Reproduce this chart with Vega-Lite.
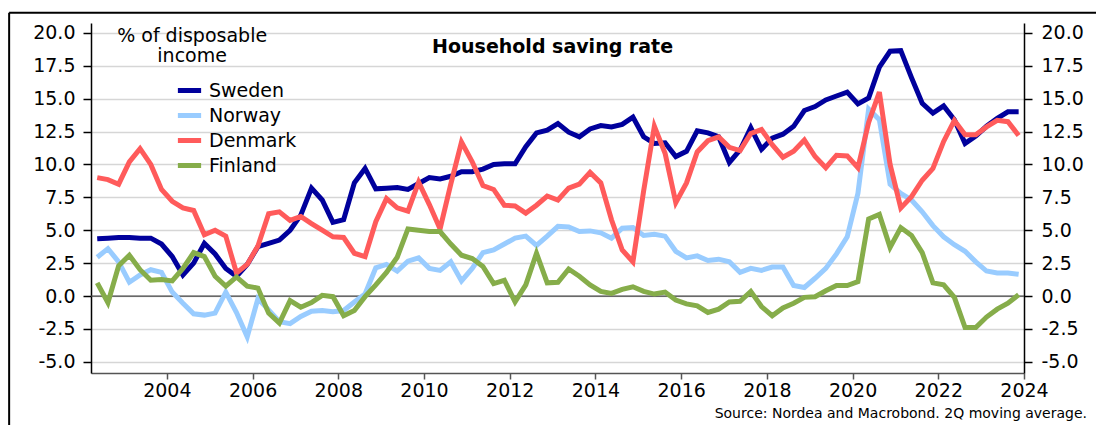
{
  "$schema": "https://vega.github.io/schema/vega-lite/v6.json",
  "width": 933,
  "height": 350,
  "autosize": {"type": "none"},
  "padding": {"left": 91, "top": 23, "right": 72, "bottom": 52},
  "background": "white",
  "config": {
    "view": {"stroke": null},
    "font": "DejaVu Sans",
    "legend": {
      "orient": "none",
      "legendX": 84,
      "legendY": 53,
      "symbolType": "stroke",
      "symbolStrokeWidth": 5,
      "symbolSize": 540,
      "labelFontSize": 19,
      "labelColor": "black",
      "labelOffset": 5,
      "rowPadding": -2,
      "title": null
    }
  },
  "datasets": {
    "series": [
{"t":2002.375,"c":"Sweden","v":4.35},{"t":2002.625,"c":"Sweden","v":4.4},{"t":2002.875,"c":"Sweden","v":4.45},{"t":2003.125,"c":"Sweden","v":4.45},{"t":2003.375,"c":"Sweden","v":4.4},{"t":2003.625,"c":"Sweden","v":4.4},{"t":2003.875,"c":"Sweden","v":3.95},{"t":2004.125,"c":"Sweden","v":3.0},{"t":2004.375,"c":"Sweden","v":1.6},{"t":2004.625,"c":"Sweden","v":2.5},
{"t":2004.875,"c":"Sweden","v":4.0},{"t":2005.125,"c":"Sweden","v":3.2},{"t":2005.375,"c":"Sweden","v":2.1},{"t":2005.625,"c":"Sweden","v":1.5},{"t":2005.875,"c":"Sweden","v":2.4},{"t":2006.125,"c":"Sweden","v":3.75},{"t":2006.375,"c":"Sweden","v":4.0},{"t":2006.625,"c":"Sweden","v":4.25},{"t":2006.875,"c":"Sweden","v":5.0},{"t":2007.125,"c":"Sweden","v":6.15},
{"t":2007.375,"c":"Sweden","v":8.2},{"t":2007.625,"c":"Sweden","v":7.3},{"t":2007.875,"c":"Sweden","v":5.6},{"t":2008.125,"c":"Sweden","v":5.8},{"t":2008.375,"c":"Sweden","v":8.6},{"t":2008.625,"c":"Sweden","v":9.7},{"t":2008.875,"c":"Sweden","v":8.15},{"t":2009.125,"c":"Sweden","v":8.2},{"t":2009.375,"c":"Sweden","v":8.25},{"t":2009.625,"c":"Sweden","v":8.1},
{"t":2009.875,"c":"Sweden","v":8.55},{"t":2010.125,"c":"Sweden","v":9.0},{"t":2010.375,"c":"Sweden","v":8.9},{"t":2010.625,"c":"Sweden","v":9.1},{"t":2010.875,"c":"Sweden","v":9.45},{"t":2011.125,"c":"Sweden","v":9.45},{"t":2011.375,"c":"Sweden","v":9.65},{"t":2011.625,"c":"Sweden","v":10.0},{"t":2011.875,"c":"Sweden","v":10.05},{"t":2012.125,"c":"Sweden","v":10.05},
{"t":2012.375,"c":"Sweden","v":11.35},{"t":2012.625,"c":"Sweden","v":12.4},{"t":2012.875,"c":"Sweden","v":12.6},{"t":2013.125,"c":"Sweden","v":13.1},{"t":2013.375,"c":"Sweden","v":12.45},{"t":2013.625,"c":"Sweden","v":12.1},{"t":2013.875,"c":"Sweden","v":12.7},{"t":2014.125,"c":"Sweden","v":12.95},{"t":2014.375,"c":"Sweden","v":12.85},{"t":2014.625,"c":"Sweden","v":13.05},
{"t":2014.875,"c":"Sweden","v":13.6},{"t":2015.125,"c":"Sweden","v":12.1},{"t":2015.375,"c":"Sweden","v":11.6},{"t":2015.625,"c":"Sweden","v":11.65},{"t":2015.875,"c":"Sweden","v":10.6},{"t":2016.125,"c":"Sweden","v":11.0},{"t":2016.375,"c":"Sweden","v":12.55},{"t":2016.625,"c":"Sweden","v":12.4},{"t":2016.875,"c":"Sweden","v":12.1},{"t":2017.125,"c":"Sweden","v":10.15},
{"t":2017.375,"c":"Sweden","v":11.1},{"t":2017.625,"c":"Sweden","v":12.8},{"t":2017.875,"c":"Sweden","v":11.15},{"t":2018.125,"c":"Sweden","v":12.0},{"t":2018.375,"c":"Sweden","v":12.3},{"t":2018.625,"c":"Sweden","v":12.9},{"t":2018.875,"c":"Sweden","v":14.1},{"t":2019.125,"c":"Sweden","v":14.4},{"t":2019.375,"c":"Sweden","v":14.9},{"t":2019.625,"c":"Sweden","v":15.2},
{"t":2019.875,"c":"Sweden","v":15.5},{"t":2020.125,"c":"Sweden","v":14.6},{"t":2020.375,"c":"Sweden","v":15.05},{"t":2020.625,"c":"Sweden","v":17.4},{"t":2020.875,"c":"Sweden","v":18.6},{"t":2021.125,"c":"Sweden","v":18.65},{"t":2021.375,"c":"Sweden","v":16.6},{"t":2021.625,"c":"Sweden","v":14.65},{"t":2021.875,"c":"Sweden","v":13.9},{"t":2022.125,"c":"Sweden","v":14.45},
{"t":2022.375,"c":"Sweden","v":13.4},{"t":2022.625,"c":"Sweden","v":11.6},{"t":2022.875,"c":"Sweden","v":12.15},{"t":2023.125,"c":"Sweden","v":12.9},{"t":2023.375,"c":"Sweden","v":13.5},{"t":2023.625,"c":"Sweden","v":14.0},{"t":2023.875,"c":"Sweden","v":14.0},

{"t":2002.375,"c":"Norway","v":2.95},{"t":2002.625,"c":"Norway","v":3.6},{"t":2002.875,"c":"Norway","v":2.6},{"t":2003.125,"c":"Norway","v":1.05},{"t":2003.375,"c":"Norway","v":1.6},{"t":2003.625,"c":"Norway","v":2.0},{"t":2003.875,"c":"Norway","v":1.8},{"t":2004.125,"c":"Norway","v":0.3},{"t":2004.375,"c":"Norway","v":-0.55},{"t":2004.625,"c":"Norway","v":-1.35},
{"t":2004.875,"c":"Norway","v":-1.45},{"t":2005.125,"c":"Norway","v":-1.3},{"t":2005.375,"c":"Norway","v":0.3},{"t":2005.625,"c":"Norway","v":-1.25},{"t":2005.875,"c":"Norway","v":-3.1},{"t":2006.125,"c":"Norway","v":-0.2},{"t":2006.375,"c":"Norway","v":-1.05},{"t":2006.625,"c":"Norway","v":-1.95},{"t":2006.875,"c":"Norway","v":-2.1},{"t":2007.125,"c":"Norway","v":-1.55},
{"t":2007.375,"c":"Norway","v":-1.15},{"t":2007.625,"c":"Norway","v":-1.1},{"t":2007.875,"c":"Norway","v":-1.2},{"t":2008.125,"c":"Norway","v":-1.1},{"t":2008.375,"c":"Norway","v":-0.45},{"t":2008.625,"c":"Norway","v":0.15},{"t":2008.875,"c":"Norway","v":2.15},{"t":2009.125,"c":"Norway","v":2.4},{"t":2009.375,"c":"Norway","v":1.9},{"t":2009.625,"c":"Norway","v":2.65},
{"t":2009.875,"c":"Norway","v":2.9},{"t":2010.125,"c":"Norway","v":2.1},{"t":2010.375,"c":"Norway","v":1.95},{"t":2010.625,"c":"Norway","v":2.6},{"t":2010.875,"c":"Norway","v":1.15},{"t":2011.125,"c":"Norway","v":2.1},{"t":2011.375,"c":"Norway","v":3.3},{"t":2011.625,"c":"Norway","v":3.5},{"t":2011.875,"c":"Norway","v":3.95},{"t":2012.125,"c":"Norway","v":4.4},
{"t":2012.375,"c":"Norway","v":4.55},{"t":2012.625,"c":"Norway","v":3.85},{"t":2012.875,"c":"Norway","v":4.55},{"t":2013.125,"c":"Norway","v":5.3},{"t":2013.375,"c":"Norway","v":5.25},{"t":2013.625,"c":"Norway","v":4.9},{"t":2013.875,"c":"Norway","v":4.95},{"t":2014.125,"c":"Norway","v":4.8},{"t":2014.375,"c":"Norway","v":4.4},{"t":2014.625,"c":"Norway","v":5.15},
{"t":2014.875,"c":"Norway","v":5.2},{"t":2015.125,"c":"Norway","v":4.6},{"t":2015.375,"c":"Norway","v":4.7},{"t":2015.625,"c":"Norway","v":4.55},{"t":2015.875,"c":"Norway","v":3.4},{"t":2016.125,"c":"Norway","v":2.9},{"t":2016.375,"c":"Norway","v":3.05},{"t":2016.625,"c":"Norway","v":2.7},{"t":2016.875,"c":"Norway","v":2.8},{"t":2017.125,"c":"Norway","v":2.6},
{"t":2017.375,"c":"Norway","v":1.8},{"t":2017.625,"c":"Norway","v":2.1},{"t":2017.875,"c":"Norway","v":1.95},{"t":2018.125,"c":"Norway","v":2.2},{"t":2018.375,"c":"Norway","v":2.2},{"t":2018.625,"c":"Norway","v":0.8},{"t":2018.875,"c":"Norway","v":0.65},{"t":2019.125,"c":"Norway","v":1.35},{"t":2019.375,"c":"Norway","v":2.1},{"t":2019.625,"c":"Norway","v":3.2},
{"t":2019.875,"c":"Norway","v":4.5},{"t":2020.125,"c":"Norway","v":7.8},{"t":2020.375,"c":"Norway","v":14.2},{"t":2020.625,"c":"Norway","v":13.4},{"t":2020.875,"c":"Norway","v":8.5},{"t":2021.125,"c":"Norway","v":7.8},{"t":2021.375,"c":"Norway","v":7.3},{"t":2021.625,"c":"Norway","v":6.4},{"t":2021.875,"c":"Norway","v":5.35},{"t":2022.125,"c":"Norway","v":4.5},
{"t":2022.375,"c":"Norway","v":3.9},{"t":2022.625,"c":"Norway","v":3.4},{"t":2022.875,"c":"Norway","v":2.6},{"t":2023.125,"c":"Norway","v":1.9},{"t":2023.375,"c":"Norway","v":1.75},{"t":2023.625,"c":"Norway","v":1.75},{"t":2023.875,"c":"Norway","v":1.65},

{"t":2002.375,"c":"Denmark","v":9.0},{"t":2002.625,"c":"Denmark","v":8.85},{"t":2002.875,"c":"Denmark","v":8.5},{"t":2003.125,"c":"Denmark","v":10.2},{"t":2003.375,"c":"Denmark","v":11.2},{"t":2003.625,"c":"Denmark","v":10.0},{"t":2003.875,"c":"Denmark","v":8.1},{"t":2004.125,"c":"Denmark","v":7.2},{"t":2004.375,"c":"Denmark","v":6.7},{"t":2004.625,"c":"Denmark","v":6.5},
{"t":2004.875,"c":"Denmark","v":4.65},{"t":2005.125,"c":"Denmark","v":5.0},{"t":2005.375,"c":"Denmark","v":4.55},{"t":2005.625,"c":"Denmark","v":1.75},{"t":2005.875,"c":"Denmark","v":2.4},{"t":2006.125,"c":"Denmark","v":3.8},{"t":2006.375,"c":"Denmark","v":6.25},{"t":2006.625,"c":"Denmark","v":6.4},{"t":2006.875,"c":"Denmark","v":5.75},{"t":2007.125,"c":"Denmark","v":6.05},
{"t":2007.375,"c":"Denmark","v":5.5},{"t":2007.625,"c":"Denmark","v":5.0},{"t":2007.875,"c":"Denmark","v":4.5},{"t":2008.125,"c":"Denmark","v":4.45},{"t":2008.375,"c":"Denmark","v":3.25},{"t":2008.625,"c":"Denmark","v":3.0},{"t":2008.875,"c":"Denmark","v":5.65},{"t":2009.125,"c":"Denmark","v":7.4},{"t":2009.375,"c":"Denmark","v":6.7},{"t":2009.625,"c":"Denmark","v":6.45},
{"t":2009.875,"c":"Denmark","v":8.65},{"t":2010.125,"c":"Denmark","v":6.95},{"t":2010.375,"c":"Denmark","v":5.1},{"t":2010.625,"c":"Denmark","v":8.5},{"t":2010.875,"c":"Denmark","v":11.7},{"t":2011.125,"c":"Denmark","v":10.2},{"t":2011.375,"c":"Denmark","v":8.4},{"t":2011.625,"c":"Denmark","v":8.1},{"t":2011.875,"c":"Denmark","v":6.9},{"t":2012.125,"c":"Denmark","v":6.85},
{"t":2012.375,"c":"Denmark","v":6.3},{"t":2012.625,"c":"Denmark","v":6.9},{"t":2012.875,"c":"Denmark","v":7.6},{"t":2013.125,"c":"Denmark","v":7.3},{"t":2013.375,"c":"Denmark","v":8.2},{"t":2013.625,"c":"Denmark","v":8.5},{"t":2013.875,"c":"Denmark","v":9.4},{"t":2014.125,"c":"Denmark","v":8.6},{"t":2014.375,"c":"Denmark","v":5.8},{"t":2014.625,"c":"Denmark","v":3.5},
{"t":2014.875,"c":"Denmark","v":2.6},{"t":2015.125,"c":"Denmark","v":8.0},{"t":2015.375,"c":"Denmark","v":12.9},{"t":2015.625,"c":"Denmark","v":10.85},{"t":2015.875,"c":"Denmark","v":7.1},{"t":2016.125,"c":"Denmark","v":8.6},{"t":2016.375,"c":"Denmark","v":10.95},{"t":2016.625,"c":"Denmark","v":11.8},{"t":2016.875,"c":"Denmark","v":12.1},{"t":2017.125,"c":"Denmark","v":11.3},
{"t":2017.375,"c":"Denmark","v":11.05},{"t":2017.625,"c":"Denmark","v":12.35},{"t":2017.875,"c":"Denmark","v":12.65},{"t":2018.125,"c":"Denmark","v":11.5},{"t":2018.375,"c":"Denmark","v":10.55},{"t":2018.625,"c":"Denmark","v":11.0},{"t":2018.875,"c":"Denmark","v":11.85},{"t":2019.125,"c":"Denmark","v":10.6},{"t":2019.375,"c":"Denmark","v":9.75},{"t":2019.625,"c":"Denmark","v":10.7},
{"t":2019.875,"c":"Denmark","v":10.65},{"t":2020.125,"c":"Denmark","v":9.75},{"t":2020.375,"c":"Denmark","v":13.2},{"t":2020.625,"c":"Denmark","v":15.5},{"t":2020.875,"c":"Denmark","v":10.0},{"t":2021.125,"c":"Denmark","v":6.7},{"t":2021.375,"c":"Denmark","v":7.55},{"t":2021.625,"c":"Denmark","v":8.8},{"t":2021.875,"c":"Denmark","v":9.7},{"t":2022.125,"c":"Denmark","v":11.75},
{"t":2022.375,"c":"Denmark","v":13.35},{"t":2022.625,"c":"Denmark","v":12.25},{"t":2022.875,"c":"Denmark","v":12.25},{"t":2023.125,"c":"Denmark","v":12.85},{"t":2023.375,"c":"Denmark","v":13.35},{"t":2023.625,"c":"Denmark","v":13.25},{"t":2023.875,"c":"Denmark","v":12.2},

{"t":2002.375,"c":"Finland","v":1.0},{"t":2002.625,"c":"Finland","v":-0.5},{"t":2002.875,"c":"Finland","v":2.3},{"t":2003.125,"c":"Finland","v":3.1},{"t":2003.375,"c":"Finland","v":2.0},{"t":2003.625,"c":"Finland","v":1.2},{"t":2003.875,"c":"Finland","v":1.25},{"t":2004.125,"c":"Finland","v":1.15},{"t":2004.375,"c":"Finland","v":2.1},{"t":2004.625,"c":"Finland","v":3.3},
{"t":2004.875,"c":"Finland","v":3.0},{"t":2005.125,"c":"Finland","v":1.5},{"t":2005.375,"c":"Finland","v":0.75},{"t":2005.625,"c":"Finland","v":1.45},{"t":2005.875,"c":"Finland","v":0.75},{"t":2006.125,"c":"Finland","v":0.6},{"t":2006.375,"c":"Finland","v":-1.3},{"t":2006.625,"c":"Finland","v":-2.05},{"t":2006.875,"c":"Finland","v":-0.35},{"t":2007.125,"c":"Finland","v":-0.85},
{"t":2007.375,"c":"Finland","v":-0.5},{"t":2007.625,"c":"Finland","v":0.05},{"t":2007.875,"c":"Finland","v":-0.05},{"t":2008.125,"c":"Finland","v":-1.5},{"t":2008.375,"c":"Finland","v":-1.1},{"t":2008.625,"c":"Finland","v":-0.05},{"t":2008.875,"c":"Finland","v":0.85},{"t":2009.125,"c":"Finland","v":1.8},{"t":2009.375,"c":"Finland","v":2.95},{"t":2009.625,"c":"Finland","v":5.1},
{"t":2009.875,"c":"Finland","v":5.0},{"t":2010.125,"c":"Finland","v":4.9},{"t":2010.375,"c":"Finland","v":4.9},{"t":2010.625,"c":"Finland","v":3.95},{"t":2010.875,"c":"Finland","v":3.1},{"t":2011.125,"c":"Finland","v":2.85},{"t":2011.375,"c":"Finland","v":2.25},{"t":2011.625,"c":"Finland","v":0.95},{"t":2011.875,"c":"Finland","v":1.2},{"t":2012.125,"c":"Finland","v":-0.45},
{"t":2012.375,"c":"Finland","v":0.85},{"t":2012.625,"c":"Finland","v":3.25},{"t":2012.875,"c":"Finland","v":1.0},{"t":2013.125,"c":"Finland","v":1.05},{"t":2013.375,"c":"Finland","v":2.05},{"t":2013.625,"c":"Finland","v":1.5},{"t":2013.875,"c":"Finland","v":0.85},{"t":2014.125,"c":"Finland","v":0.35},{"t":2014.375,"c":"Finland","v":0.2},{"t":2014.625,"c":"Finland","v":0.5},
{"t":2014.875,"c":"Finland","v":0.7},{"t":2015.125,"c":"Finland","v":0.35},{"t":2015.375,"c":"Finland","v":0.15},{"t":2015.625,"c":"Finland","v":0.3},{"t":2015.875,"c":"Finland","v":-0.3},{"t":2016.125,"c":"Finland","v":-0.6},{"t":2016.375,"c":"Finland","v":-0.75},{"t":2016.625,"c":"Finland","v":-1.25},{"t":2016.875,"c":"Finland","v":-1.0},{"t":2017.125,"c":"Finland","v":-0.45},
{"t":2017.375,"c":"Finland","v":-0.4},{"t":2017.625,"c":"Finland","v":0.35},{"t":2017.875,"c":"Finland","v":-0.8},{"t":2018.125,"c":"Finland","v":-1.5},{"t":2018.375,"c":"Finland","v":-0.9},{"t":2018.625,"c":"Finland","v":-0.55},{"t":2018.875,"c":"Finland","v":-0.1},{"t":2019.125,"c":"Finland","v":-0.05},{"t":2019.375,"c":"Finland","v":0.4},{"t":2019.625,"c":"Finland","v":0.8},
{"t":2019.875,"c":"Finland","v":0.8},{"t":2020.125,"c":"Finland","v":1.1},{"t":2020.375,"c":"Finland","v":5.85},{"t":2020.625,"c":"Finland","v":6.2},{"t":2020.875,"c":"Finland","v":3.7},{"t":2021.125,"c":"Finland","v":5.2},{"t":2021.375,"c":"Finland","v":4.6},{"t":2021.625,"c":"Finland","v":3.3},{"t":2021.875,"c":"Finland","v":1.0},{"t":2022.125,"c":"Finland","v":0.85},
{"t":2022.375,"c":"Finland","v":-0.1},{"t":2022.625,"c":"Finland","v":-2.4},{"t":2022.875,"c":"Finland","v":-2.4},{"t":2023.125,"c":"Finland","v":-1.6},{"t":2023.375,"c":"Finland","v":-1.0},{"t":2023.625,"c":"Finland","v":-0.55},{"t":2023.875,"c":"Finland","v":0.1}
    ]
  },
  "layer": [
    {
      "data": {"values": [{"z": 0}]},
      "mark": {"type": "rule", "color": "#444444", "strokeWidth": 1.2},
      "encoding": {
        "y": {
          "field": "z", "type": "quantitative",
          "scale": {"domain": [-5.85, 20.75], "nice": false, "zero": false},
          "axis": {
            "orient": "right",
            "values": [-5, -2.5, 0, 2.5, 5, 7.5, 10, 12.5, 15, 17.5, 20],
            "labelExpr": "datum.value < 0 ? '-' + format(-datum.value, '.1f') : format(datum.value, '.1f')",
            "labelFontSize": 19, "labelColor": "black", "labelPadding": 9, "labelFlush": false, "labelOverlap": false,
            "tickSize": 8, "tickWidth": 1.5, "tickColor": "black",
            "domainColor": "black", "domainWidth": 1.5,
            "grid": false, "title": null
          }
        }
      }
    },
    {
      "data": {"name": "series"},
      "mark": {"type": "line", "strokeWidth": 5, "strokeJoin": "miter"},
      "encoding": {
        "x": {
          "field": "t", "type": "quantitative",
          "scale": {"domain": [2002.23, 2024.0], "nice": false, "zero": false},
          "axis": {
            "orient": "bottom",
            "values": [2004, 2006, 2008, 2010, 2012, 2014, 2016, 2018, 2020, 2022, 2024],
            "format": "d", "labelFontSize": 19, "labelColor": "black", "labelPadding": 2,
            "labelFlush": false, "labelOverlap": false,
            "tickSize": 6, "tickWidth": 1.5, "tickColor": "#555555",
            "domainColor": "#555555", "domainWidth": 1.5, "grid": false, "title": null
          }
        },
        "y": {
          "field": "v", "type": "quantitative",
          "scale": {"domain": [-5.85, 20.75], "nice": false, "zero": false},
          "axis": {
            "orient": "left",
            "values": [-5, -2.5, 0, 2.5, 5, 7.5, 10, 12.5, 15, 17.5, 20],
            "labelExpr": "datum.value < 0 ? '-' + format(-datum.value, '.1f') : format(datum.value, '.1f')",
            "labelFontSize": 19, "labelColor": "black", "labelPadding": 8, "labelFlush": false, "labelOverlap": false,
            "tickSize": 8, "tickWidth": 1.5, "tickColor": "black",
            "domainColor": "black", "domainWidth": 1.5,
            "grid": true, "gridColor": "#d6d6d6", "gridWidth": 1.5, "title": null
          }
        },
        "color": {
          "field": "c", "type": "nominal",
          "scale": {"domain": ["Sweden", "Norway", "Denmark", "Finland"], "range": ["#00009c", "#99ccff", "#ff5b5b", "#86ad4a"]},
          "legend": {"title": null}
        }
      }
    },
    {
      "data": {"values": [{}]},
      "mark": {"type": "text", "text": "Household saving rate", "fontSize": 19, "fontWeight": "bold", "align": "center", "baseline": "middle", "color": "black"},
      "encoding": {
        "x": {"datum": 2013.0, "type": "quantitative", "scale": {"domain": [2002.23, 2024.0], "nice": false, "zero": false}, "axis": null},
        "y": {"datum": 18.95, "type": "quantitative", "scale": {"domain": [-5.85, 20.75], "nice": false, "zero": false}, "axis": null}
      }
    },
    {
      "data": {"values": [{}]},
      "mark": {"type": "text", "text": ["% of disposable", "income"], "fontSize": 19, "align": "center", "baseline": "top", "lineHeight": 20, "color": "black"},
      "encoding": {
        "x": {"datum": 2004.59, "type": "quantitative", "scale": {"domain": [2002.23, 2024.0], "nice": false, "zero": false}, "axis": null},
        "y": {"datum": 20.45, "type": "quantitative", "scale": {"domain": [-5.85, 20.75], "nice": false, "zero": false}, "axis": null}
      }
    },
    {
      "data": {"values": [{}]},
      "mark": {"type": "text", "text": "Source: Nordea and Macrobond. 2Q moving average.", "fontSize": 14, "align": "right", "baseline": "alphabetic", "color": "black"},
      "encoding": {
        "x": {"datum": 2025.47, "type": "quantitative", "scale": {"domain": [2002.23, 2024.0], "nice": false, "zero": false}, "axis": null},
        "y": {"datum": -9.28, "type": "quantitative", "scale": {"domain": [-5.85, 20.75], "nice": false, "zero": false}, "axis": null}
      }
    },
    {
      "data": {"values": [{}]},
      "mark": {"type": "rule", "color": "black", "strokeWidth": 2},
      "encoding": {
        "x": {"datum": 2000.32, "type": "quantitative", "scale": {"domain": [2002.23, 2024.0], "nice": false, "zero": false}, "axis": null},
        "x2": {"datum": 2026.5},
        "y": {"datum": 21.52, "type": "quantitative", "scale": {"domain": [-5.85, 20.75], "nice": false, "zero": false}, "axis": null}
      }
    },
    {
      "data": {"values": [{}]},
      "mark": {"type": "rule", "color": "black", "strokeWidth": 2},
      "encoding": {
        "x": {"datum": 2000.32, "type": "quantitative", "scale": {"domain": [2002.23, 2024.0], "nice": false, "zero": false}, "axis": null},
        "y": {"datum": 21.52, "type": "quantitative", "scale": {"domain": [-5.85, 20.75], "nice": false, "zero": false}, "axis": null},
        "y2": {"datum": -10.5}
      }
    }
  ],
  "resolve": {"axis": {"x": "independent", "y": "independent"}}
}
